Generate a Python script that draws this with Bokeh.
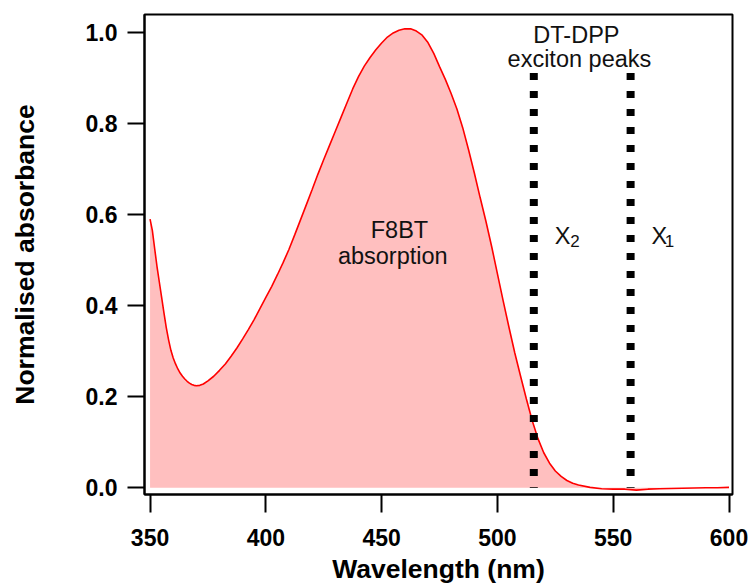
from bokeh.plotting import figure
from bokeh.models import FixedTicker, NumeralTickFormatter
from bokeh.core.properties import value
from bokeh.embed import file_html
from bokeh.resources import INLINE

# F8BT absorption spectrum (normalised)
wavelength = [350, 351, 352, 353, 354, 355, 356, 357, 358, 359,
              360, 361, 362, 363, 364, 365, 366, 367, 368, 369,
              370, 371.5, 373, 375, 377.5, 380, 382.5, 385, 387.5, 390,
              392.5, 395, 397.5, 400, 402.5, 405, 407.5, 410, 412.5, 415,
              417.5, 420, 422.5, 425, 427.5, 430, 432.5, 435, 437.5, 440,
              442.5, 445, 447.5, 450, 452.5, 455, 457.5, 460, 462.5, 465,
              467.5, 470, 472.5, 475, 477.5, 480, 482.5, 485, 487.5, 490,
              492.5, 495, 497.5, 500, 502.5, 505, 507.5, 510, 512.5, 515,
              517.5, 520, 522.5, 525, 527.5, 530, 532.5, 535, 540, 545,
              550, 555, 560, 565, 570, 580, 590, 595, 600]
absorbance = [0.590, 0.565, 0.525, 0.486, 0.452, 0.418, 0.384, 0.352, 0.325, 0.302,
              0.285, 0.272, 0.261, 0.252, 0.245, 0.239, 0.234, 0.230, 0.227, 0.225,
              0.224, 0.225, 0.228, 0.235, 0.245, 0.258, 0.272, 0.289, 0.307, 0.327,
              0.348, 0.370, 0.394, 0.418, 0.442, 0.468, 0.495, 0.524, 0.556, 0.589,
              0.622, 0.655, 0.689, 0.721, 0.752, 0.783, 0.814, 0.845, 0.876, 0.903,
              0.926, 0.945, 0.962, 0.977, 0.990, 0.999, 1.005, 1.008, 1.008, 1.003,
              0.994, 0.978, 0.954, 0.925, 0.897, 0.866, 0.832, 0.791, 0.743, 0.692,
              0.638, 0.586, 0.530, 0.470, 0.410, 0.352, 0.296, 0.245, 0.195, 0.148,
              0.108, 0.077, 0.054, 0.037, 0.025, 0.016, 0.010, 0.006, 0.001, -0.002,
              -0.003, -0.003, -0.005, -0.003, -0.002, -0.001, 0.000, 0.000, 0.001]

# DT-DPP exciton peaks (X2, X1)
peak_wavelengths = [515.7, 557.5]
peak_top = [0.911, 0.911]
peak_bottom = [0.0, 0.0]
peak_names = ["X", "X"]
peak_subscripts = ["2", "1"]

x_ticks = [350, 400, 450, 500, 550, 600]
y_ticks = [0.0, 0.2, 0.4, 0.6, 0.8, 1.0]
y_tick_labels = ["0.0", "0.2", "0.4", "0.6", "0.8", "1.0"]

annot_text = ["DT-DPP", "exciton peaks", "F8BT", "absorption"]
annot_x = [534.1, 535.4, 457.7, 454.8]
annot_y = [0.995, 0.941, 0.566, 0.509]

FONT = "Liberation Sans"

p = figure(width=748, height=586,
           x_range=(347.6, 601.5), y_range=(-0.0147, 1.0395),
           output_backend="svg", toolbar_location=None,
           min_border_left=144, min_border_right=16,
           min_border_top=14, min_border_bottom=91,
           x_axis_label="Wavelength (nm)", y_axis_label="Normalised absorbance")
p.xgrid.visible = False
p.ygrid.visible = False
p.outline_line_color = "black"
p.outline_line_width = 2
p.background_fill_color = "white"
p.border_fill_color = "white"

p.varea(x=wavelength, y1=0, y2=absorbance, fill_color="#FFBFBF", fill_alpha=1.0)
p.line(wavelength, absorbance, line_color="#FF0000", line_width=1.6)
p.segment(x0=peak_wavelengths, y0=peak_top, x1=peak_wavelengths, y1=peak_bottom,
          line_color="black", line_width=8, line_dash="7 11")

p.text(x=annot_x, y=annot_y, text=annot_text, text_align="center",
       text_baseline="alphabetic", text_font=value(FONT),
       text_font_size="23.5px", text_color="#111111")

# X labels with subscripts
p.text(x=[524.7, 566.5], y=[0.554, 0.554], text=peak_names, text_align="left",
       text_baseline="alphabetic", text_font=value(FONT),
       text_font_size="23.5px", text_color="#111111")
p.text(x=[531.4, 572.2], y=[0.541, 0.541], text=peak_subscripts, text_align="left",
       text_baseline="alphabetic", text_font=value(FONT),
       text_font_size="17px", text_color="#111111")

p.xaxis.ticker = FixedTicker(ticks=x_ticks)
p.yaxis.ticker = FixedTicker(ticks=y_ticks)
p.yaxis.formatter = NumeralTickFormatter(format="0.0")
p.yaxis.major_label_overrides = {t: s for t, s in zip(y_ticks, y_tick_labels)}

for ax in (p.xaxis[0], p.yaxis[0]):
    ax.axis_line_width = 2
    ax.axis_line_color = "black"
    ax.major_tick_line_width = 2
    ax.major_tick_line_color = "black"
    ax.major_tick_in = 0
    ax.minor_tick_in = 0
    ax.minor_tick_out = 0
    ax.major_label_text_font = FONT
    ax.major_label_text_font_style = "bold"
    ax.major_label_text_font_size = "23px"
    ax.major_label_text_color = "black"
    ax.axis_label_text_font = FONT
    ax.axis_label_text_font_style = "bold"
    ax.axis_label_text_font_size = "26.5px"
    ax.axis_label_text_color = "black"

p.xaxis.major_tick_out = 18
p.yaxis.major_tick_out = 17
p.xaxis.major_label_standoff = 16
p.yaxis.major_label_standoff = 10
p.xaxis.axis_label_standoff = 5
p.yaxis.axis_label_standoff = 43

open("out.html", "w").write(file_html(p, INLINE))
